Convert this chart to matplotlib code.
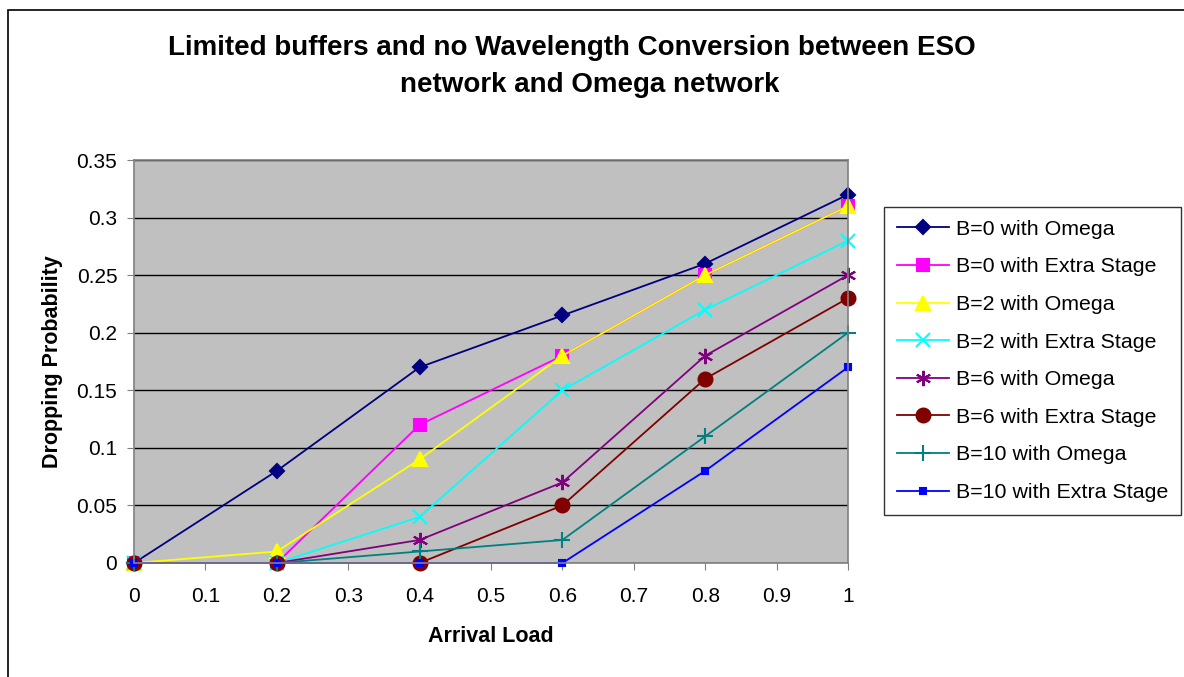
import matplotlib.pyplot as plt
from matplotlib.patches import Rectangle

plt.rcParams["font.family"] = ["Liberation Sans", "DejaVu Sans"]

# Datos
carga = [0, 0.2, 0.4, 0.6, 0.8, 1.0]

b0_omega = [0, 0.08, 0.17, 0.215, 0.26, 0.32]
b0_extra = [0, 0, 0.12, 0.18, 0.25, 0.31]
b2_omega = [0, 0.01, 0.09, 0.18, 0.25, 0.31]
b2_extra = [0, 0, 0.04, 0.15, 0.22, 0.28]
b6_omega = [0, 0, 0.02, 0.07, 0.18, 0.25]
b6_extra = [0, 0, 0, 0.05, 0.16, 0.23]
b10_omega = [0, 0, 0.01, 0.02, 0.11, 0.20]
b10_extra = [0, 0, 0, 0, 0.08, 0.17]

nombres = [
    "B=0 with Omega",
    "B=0 with Extra Stage",
    "B=2 with Omega",
    "B=2 with Extra Stage",
    "B=6 with Omega",
    "B=6 with Extra Stage",
    "B=10 with Omega",
    "B=10 with Extra Stage",
]
series = [b0_omega, b0_extra, b2_omega, b2_extra, b6_omega, b6_extra, b10_omega, b10_extra]

titulo_1 = "Limited buffers and no Wavelength Conversion between ESO"
titulo_2 = "network and Omega network"

# estilo de cada serie: color, marcador, tamano
estilos = [
    ("#000080", "D", 7),
    ("#FF00FF", "s", 9),
    ("#FFFF00", "^", 10),
    ("#00FFFF", "x", 10),
    ("#800080", (6, 2, 0), 11),
    ("#800000", "o", 10),
    ("#008080", "+", 11),
    ("#0000FF", "s", 5),
]

fig = plt.figure(figsize=(11.84, 6.77), dpi=100)
ax = fig.add_axes([134 / 1184, 114 / 677, 714 / 1184, 403 / 677])
ax.set_facecolor("#C0C0C0")

for valores, nombre, (color, marcador, tam) in zip(series, nombres, estilos):
    ax.plot(
        carga,
        valores,
        color=color,
        marker=marcador,
        markersize=tam,
        markeredgewidth=1.5,
        linewidth=1.3,
        label=nombre,
        clip_on=False,
    )

ax.set_xlim(0, 1)
ax.set_ylim(0, 0.35)
ax.set_xticks([i / 10 for i in range(11)])
ax.set_xticklabels(["0", "0.1", "0.2", "0.3", "0.4", "0.5", "0.6", "0.7", "0.8", "0.9", "1"])
ax.set_yticks([0, 0.05, 0.1, 0.15, 0.2, 0.25, 0.3, 0.35])
ax.set_yticklabels(["0", "0.05", "0.1", "0.15", "0.2", "0.25", "0.3", "0.35"])
ax.tick_params(labelsize=15, direction="out", length=5, color="#808080")
ax.tick_params(axis="x", pad=12)
ax.tick_params(axis="y", pad=7)
ax.yaxis.grid(True, color="black", linewidth=1)
ax.set_axisbelow(True)
for lado in ax.spines.values():
    lado.set_color("#808080")
    lado.set_linewidth(1.2)

ax.set_xlabel("Arrival Load", fontsize=15.5, fontweight="bold", labelpad=15)
ax.set_ylabel("Dropping Probability", fontsize=15.5, fontweight="bold", labelpad=10)

# titulo en dos lineas, la segunda algo desplazada a la derecha como en el original
fig.text(572 / 1184, 1 - 48 / 677, titulo_1, ha="center", va="center",
         fontsize=20, fontweight="bold")
fig.text(590 / 1184, 1 - 85 / 677, titulo_2, ha="center", va="center",
         fontsize=20, fontweight="bold")

leg = ax.legend(
    loc="upper left",
    bbox_to_anchor=(884 / 1184, 1 - 207 / 677),
    bbox_transform=fig.transFigure,
    fontsize=15.4,
    frameon=True,
    fancybox=False,
    edgecolor="black",
    borderpad=0.6,
    labelspacing=0.87,
    handlelength=2.45,
    handletextpad=0.3,
    borderaxespad=0,
)
leg.get_frame().set_linewidth(1.0)

# marco exterior del grafico
fig.patches.append(
    Rectangle((8 / 1184, -0.05), 1.2, 1 - 10 / 677 + 0.05, transform=fig.transFigure,
              fill=False, edgecolor="black", linewidth=1.2)
)

fig.savefig("out.png", dpi=100)
